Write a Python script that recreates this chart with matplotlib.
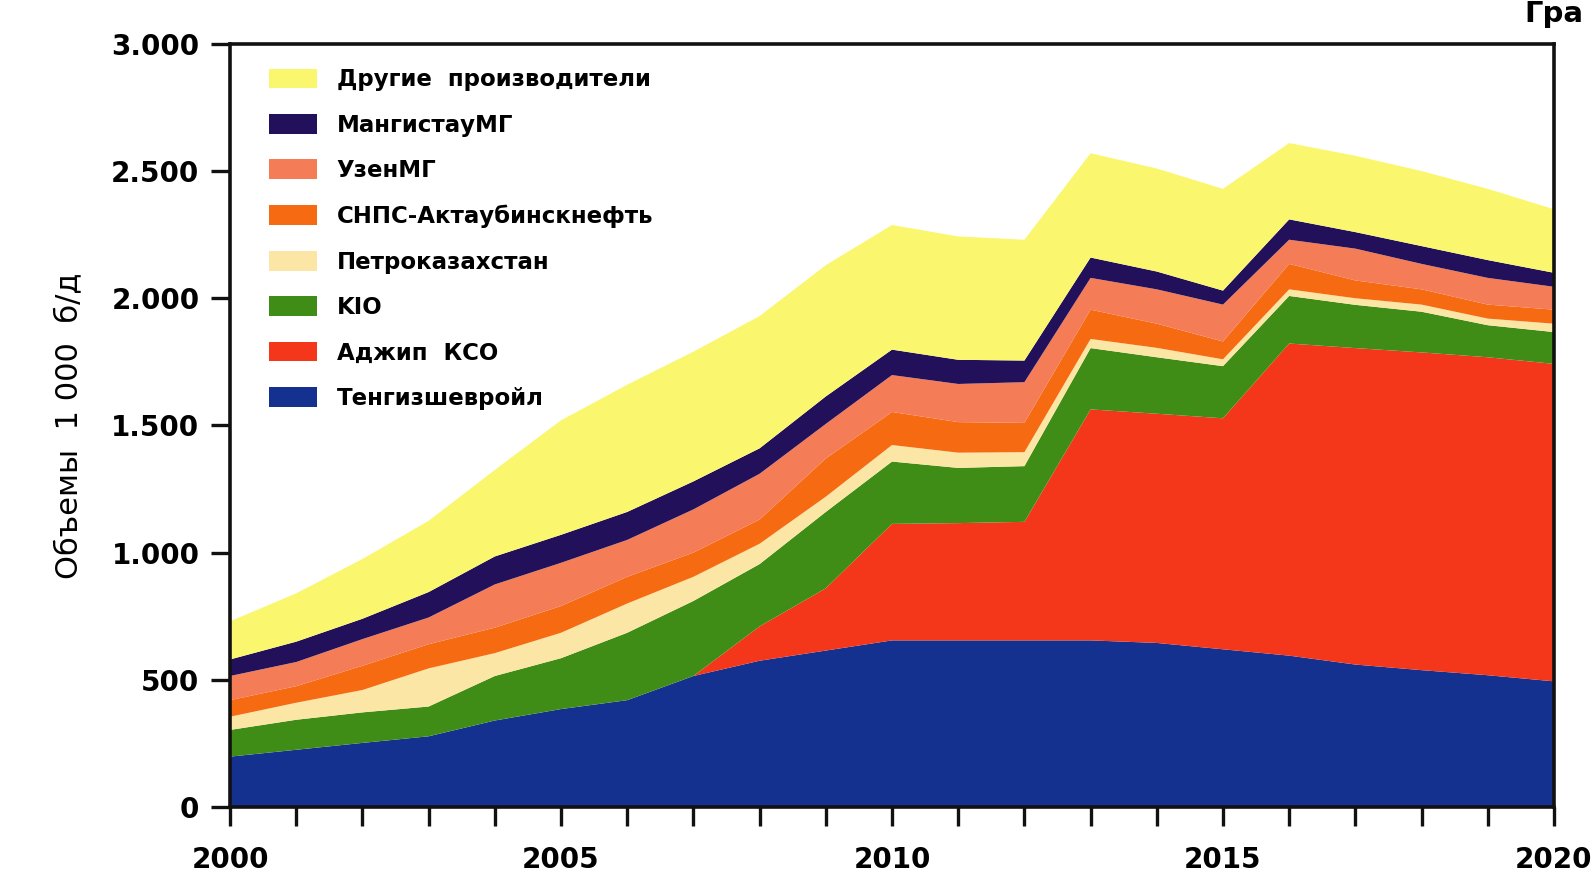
import matplotlib
matplotlib.use("Agg")
import matplotlib.pyplot as plt
import numpy as np
from matplotlib.patches import Patch
from matplotlib.ticker import FuncFormatter

plt.rcParams['font.family'] = ['DejaVu Sans']

years = list(range(2000, 2021))

# объемы добычи, тыс. баррелей в день
tengiz = [198, 225, 252, 278, 340, 385, 420, 515, 575, 615, 655, 655, 655, 655, 645, 620, 595, 560, 538, 518, 494]
agip = [0, 0, 0, 0, 0, 0, 0, 0, 135, 245, 458, 461, 466, 908, 901, 908, 1227, 1244, 1249, 1250, 1248]
kio = [105, 118, 120, 117, 175, 200, 265, 295, 245, 300, 245, 217, 219, 241, 222, 205, 187, 170, 160, 126, 125]
petro = [52, 67, 88, 150, 90, 100, 115, 95, 80, 60, 65, 60, 55, 36, 37, 27, 26, 26, 28, 26, 33]
cnpc = [65, 65, 95, 95, 100, 105, 105, 95, 95, 150, 130, 120, 115, 115, 95, 70, 100, 70, 60, 55, 55]
uzen = [95, 95, 105, 105, 170, 170, 145, 170, 180, 136, 145, 150, 160, 125, 135, 145, 95, 125, 100, 105, 90]
mangistau = [65, 80, 80, 100, 110, 110, 110, 110, 100, 108, 100, 95, 85, 80, 70, 55, 80, 65, 70, 70, 55]
others = [150, 190, 235, 280, 340, 450, 500, 510, 520, 516, 490, 485, 475, 410, 405, 400, 300, 300, 295, 280, 250]

labels = ["Тенгизшевройл", "Аджип  КСО", "KIO", "Петроказахстан",
          "СНПС-Актаубинскнефть", "УзенМГ", "МангистауМГ", "Другие  производители"]
colors = ["#14318f", "#f4361a", "#3f8d16", "#fbe6a6",
          "#f66a12", "#f47c56", "#22105a", "#faf76e"]

fig = plt.figure(figsize=(15.93, 8.77), dpi=100)
ax = fig.add_axes([0.1444, 0.0798, 0.8311, 0.8702])

ax.stackplot(years, tengiz, agip, kio, petro, cnpc, uzen, mangistau, others,
             colors=colors, linewidth=0)

ax.set_xlim(2000, 2020)
ax.set_ylim(0, 3000)

for s in ax.spines.values():
    s.set_linewidth(2.6)
    s.set_color("#111111")

ax.set_yticks(np.arange(0, 3001, 500))
ax.yaxis.set_major_formatter(FuncFormatter(lambda v, p: f"{int(v):,}".replace(",", ".")))
ax.set_xticks(years)
ax.set_xticklabels([str(y) if y % 5 == 0 else "" for y in years])
ax.tick_params(axis="both", direction="out", length=14, width=2.4, color="#111111",
               labelsize=20)
ax.tick_params(axis="x", pad=14)
ax.tick_params(axis="y", pad=8)
for t in ax.get_xticklabels() + ax.get_yticklabels():
    t.set_fontweight("bold")

ax.set_ylabel("Объемы  1 000  б/д", fontsize=22, labelpad=20)

handles = [Patch(facecolor=c, edgecolor="none") for c in colors]
ax.legend(handles[::-1], labels[::-1], loc="upper left", bbox_to_anchor=(0.014, 0.995),
          frameon=False, prop={"weight": "bold", "size": 16.5},
          handlelength=2.1, handleheight=0.95, labelspacing=0.98, handletextpad=0.85)

fig.text(0.957, 0.975, "Гра", fontsize=21, fontweight="bold", ha="left", va="baseline")

fig.savefig("out.png", dpi=100)
